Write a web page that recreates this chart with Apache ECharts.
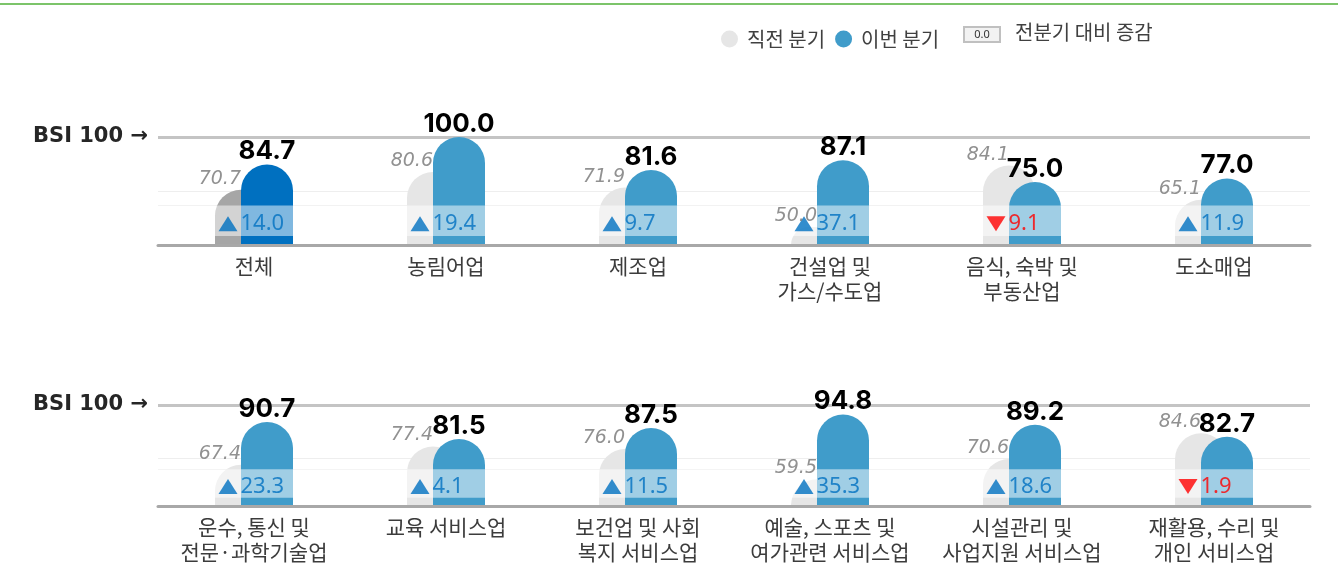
<!DOCTYPE html>
<html>
<head>
<meta charset="utf-8">
<title>업종별 BSI</title>
<script src="https://cdn.jsdelivr.net/npm/echarts@6/dist/echarts.min.js"></script>
<style>
  html, body { margin: 0; padding: 0; background: #ffffff; }
  #chart { width: 1338px; height: 582px; }
</style>
</head>
<body>
<div id="chart"></div>
<script>
// 업종별 BSI: 직전 분기 vs 이번 분기, 전분기 대비 증감
const topCategories = ['전체', '농림어업', '제조업', '건설업 및\n가스/수도업', '음식, 숙박 및\n부동산업', '도소매업'];
const topPrevious = [70.7, 80.6, 71.9, 50.0, 84.1, 65.1];
const topCurrent = [84.7, 100.0, 81.6, 87.1, 75.0, 77.0];
const topChange = [14.0, 19.4, 9.7, 37.1, -9.1, 11.9];

const bottomCategories = ['운수, 통신 및\n전문·과학기술업', '교육 서비스업', '보건업 및 사회\n복지 서비스업', '예술, 스포츠 및\n여가관련 서비스업', '시설관리 및\n사업지원 서비스업', '재활용, 수리 및\n개인 서비스업'];
const bottomPrevious = [67.4, 77.4, 76.0, 59.5, 70.6, 84.6];
const bottomCurrent = [90.7, 81.5, 87.5, 94.8, 89.2, 82.7];
const bottomChange = [23.3, 4.1, 11.5, 35.3, 18.6, -1.9];

const referenceValue = 100;
const referenceLabel = 'BSI 100 →';
const legendNames = ['직전 분기', '이번 분기'];
const legendChangeText = '전분기 대비 증감';
const legendChangeSample = '0.0';

// styling
const KR = '"Noto Sans CJK KR", "Noto Sans", sans-serif';
const BAR_W = 52;
const BLUE = '#409cca';
const GRAY = '#e6e6e6';
const TOTAL_BLUE = '#0070c0';
const TOTAL_GRAY = '#a6a6a6';
const UP = '#0070c0';
const DOWN = '#ff0000';

const rows = [
  { cats: topCategories, prev: topPrevious, cur: topCurrent, chg: topChange,
    min: 40, band: [45, 62], faint: 70, top: 137, height: 108, highlightFirst: true },
  { cats: bottomCategories, prev: bottomPrevious, cur: bottomCurrent, chg: bottomChange,
    min: 45, band: [49.5, 65], faint: 71, top: 405, height: 101, highlightFirst: false }
];

const grids = [], xAxes = [], yAxes = [], series = [];

rows.forEach((row, g) => {
  grids.push({ left: 158, right: 28, top: row.top, height: row.height });

  xAxes.push({
    type: 'category', gridIndex: g, data: row.cats, z: 5,
    axisLine: { show: true, lineStyle: { color: '#a8a8a8', width: 3 } },
    axisTick: { show: false },
    axisLabel: { interval: 0, fontFamily: KR, fontSize: 21, lineHeight: 25, color: '#3c3c3c', margin: 9 }
  });

  yAxes.push({
    type: 'value', gridIndex: g, min: row.min, max: referenceValue, interval: 5,
    axisLine: { show: false }, axisTick: { show: false }, splitLine: { show: false },
    axisLabel: {
      margin: 10, fontFamily: '"DejaVu Sans", sans-serif', fontWeight: 'bold', fontSize: 21, color: '#262626',
      formatter: v => (v === referenceValue ? referenceLabel : '')
    }
  });

  // reference and guide lines, beneath the bars
  series.push({
    type: 'line', xAxisIndex: g, yAxisIndex: g, data: [], silent: true,
    markLine: {
      z: 1, silent: true, symbol: ['none', 'none'], label: { show: false }, animation: false,
      data: [
        { yAxis: referenceValue, lineStyle: { color: '#c4c4c4', width: 3, type: 'solid' } },
        { yAxis: row.faint, lineStyle: { color: '#eeeeee', width: 1, type: 'solid' } },
        { yAxis: row.band[1], lineStyle: { color: '#eeeeee', width: 1, type: 'solid' } }
      ]
    }
  });

  series.push({
    name: legendNames[0], type: 'bar', xAxisIndex: g, yAxisIndex: g, z: 2,
    barWidth: BAR_W, barGap: '-50%',
    itemStyle: { color: GRAY, borderRadius: [BAR_W / 2, BAR_W / 2, 0, 0] },
    data: row.prev.map((v, i) => (row.highlightFirst && i === 0)
      ? { value: v, itemStyle: { color: TOTAL_GRAY } } : v)
  });

  series.push({
    name: legendNames[1], type: 'bar', xAxisIndex: g, yAxisIndex: g, z: 2,
    barWidth: BAR_W, barGap: '-50%',
    itemStyle: { color: BLUE, borderRadius: [BAR_W / 2, BAR_W / 2, 0, 0] },
    label: {
      show: true, position: 'top', distance: 0,
      fontFamily: 'Inter, "Liberation Sans", sans-serif', fontWeight: 'bold', fontSize: 26, color: '#000000',
      formatter: p => Number(p.value).toFixed(1)
    },
    data: row.cur.map((v, i) => (row.highlightFirst && i === 0)
      ? { value: v, itemStyle: { color: TOTAL_BLUE } } : v)
  });

  // translucent band that lightens the bars where the change is written
  series.push({
    type: 'line', xAxisIndex: g, yAxisIndex: g, data: [], silent: true,
    markArea: {
      z: 3, silent: true, animation: false,
      itemStyle: { color: 'rgba(255,255,255,0.5)' },
      data: [[{ yAxis: row.band[1] }, { yAxis: row.band[0] }]]
    }
  });

  // previous-quarter values, written at the top of the grey bars
  series.push({
    type: 'scatter', xAxisIndex: g, yAxisIndex: g, z: 10, silent: true,
    symbol: 'rect', symbolSize: 1, itemStyle: { color: 'rgba(0,0,0,0)' },
    label: {
      show: true, position: 'top', distance: 1, align: 'right', offset: [-BAR_W / 4, 0],
      fontFamily: '"DejaVu Sans", sans-serif', fontStyle: 'italic', fontSize: 19, color: '#767676',
      formatter: p => Number(p.value[1]).toFixed(1)
    },
    data: row.prev.map((v, i) => [i, v])
  });

  // change versus previous quarter, arrow plus amount inside the band
  const bandMid = (row.band[0] + row.band[1]) / 2;
  series.push({
    type: 'scatter', xAxisIndex: g, yAxisIndex: g, z: 10, silent: true,
    symbol: 'triangle', symbolSize: [19, 15], symbolOffset: [-BAR_W / 2, 3],
    label: {
      show: true, position: 'right', distance: 3,
      fontFamily: '"Noto Sans", sans-serif', fontSize: 22,
      formatter: p => Math.abs(row.chg[p.dataIndex]).toFixed(1)
    },
    data: row.chg.map((c, i) => ({
      value: [i, bandMid],
      symbolRotate: c < 0 ? 180 : 0,
      itemStyle: { color: c < 0 ? DOWN : UP },
      label: { color: c < 0 ? DOWN : UP }
    }))
  });
});

const chart = echarts.init(document.getElementById('chart'), null, { renderer: 'canvas' });
chart.setOption({
  animation: false,
  backgroundColor: '#ffffff',
  grid: grids,
  xAxis: xAxes,
  yAxis: yAxes,
  legend: {
    data: legendNames, left: 716, top: 24, icon: 'circle',
    itemWidth: 17, itemHeight: 17, itemGap: 10, selectedMode: false,
    textStyle: { fontFamily: KR, fontSize: 20, color: '#404040', padding: [0, 0, 0, 4] }
  },
  graphic: [
    { type: 'rect', left: 0, top: 3, silent: true, shape: { width: 1338, height: 2 }, style: { fill: '#7cc46a' } },
    {
      type: 'group', left: 963, top: 26, silent: true,
      children: [
        { type: 'rect', shape: { x: 0, y: 0, width: 36, height: 15 }, style: { fill: '#f2f2f2', stroke: '#c0c0c0', lineWidth: 2 } },
        { type: 'text', x: 18, y: 8, style: { text: legendChangeSample, fontFamily: '"Noto Sans", sans-serif', fontSize: 11, fill: '#333333', align: 'center', verticalAlign: 'middle' } }
      ]
    },
    { type: 'text', left: 1015, top: 22, silent: true, style: { text: legendChangeText, fontFamily: KR, fontSize: 20, fill: '#404040' } }
  ],
  series: series
});
</script>
</body>
</html>
